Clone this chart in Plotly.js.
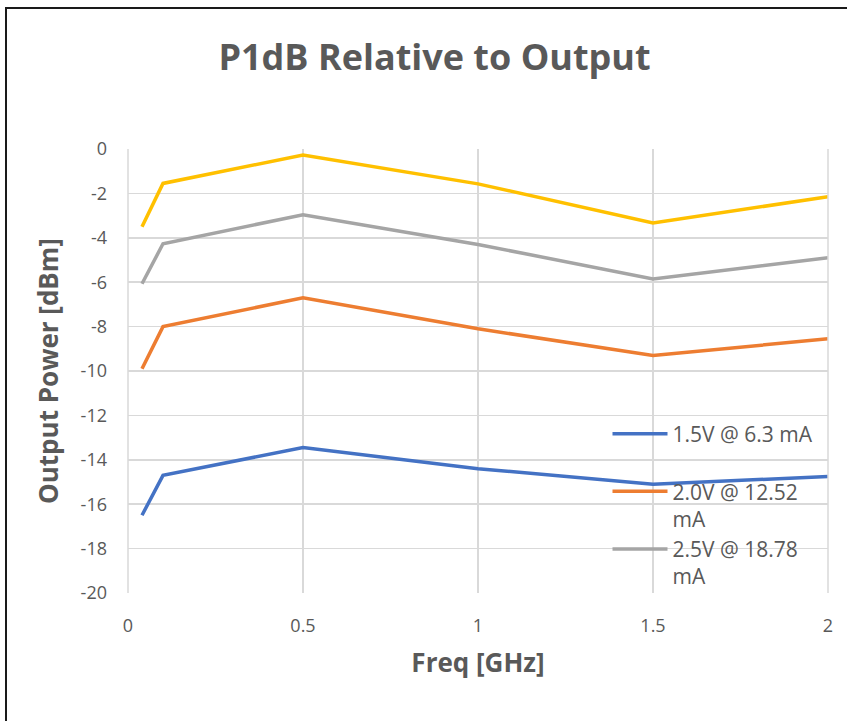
<!DOCTYPE html>
<html>
<head>
<meta charset="utf-8">
<script src="https://cdn.plot.ly/plotly-3.0.1.min.js"></script>
<style>
html,body{margin:0;padding:0;background:#fff;overflow:hidden;}
#chart{position:absolute;left:0;top:0;width:847px;height:721px;}
#frame{position:absolute;left:5px;top:7px;width:900px;height:800px;border:2px solid #1a1a1a;pointer-events:none;}
</style>
</head>
<body>
<div id="chart"></div>
<div id="frame"></div>
<script>
const freq = [0.04, 0.1, 0.5, 1, 1.5, 2];
const s15 = [-16.5, -14.7, -13.45, -14.4, -15.1, -14.75];
const s20 = [-9.9, -8.0, -6.7, -8.1, -9.3, -8.55];
const s25 = [-6.07, -4.27, -2.96, -4.3, -5.85, -4.9];
const s30 = [-3.5, -1.55, -0.27, -1.57, -3.33, -2.15];
const names = ["1.5V @ 6.3 mA<br>&nbsp;", "2.0V @ 12.52<br>mA", "2.5V @ 18.78<br>mA", "3.0V"];
const colors = ["#4472C4", "#ED7D31", "#A5A5A5", "#FFC000"];
const series = [s15, s20, s25, s30];
const xTicks = [0, 0.5, 1, 1.5, 2];
const xTickText = ["0", "0.5", "1", "1.5", "2"];
const yTicks = [0, -2, -4, -6, -8, -10, -12, -14, -16, -18, -20];
const yTickText = ["0", "-2", "-4", "-6", "-8", "-10", "-12", "-14", "-16", "-18", "-20"];

const FONT = "'Open Sans', 'Noto Sans', sans-serif";
const traces = series.map((s, i) => ({
  x: freq, y: s, type: "scatter", mode: "lines", name: names[i],
  line: {color: colors[i], width: 3.5},
  showlegend: i < 3
}));

const layout = {
  width: 847, height: 721,
  margin: {l: 128, r: 19, t: 149, b: 128},
  paper_bgcolor: "#fff", plot_bgcolor: "#fff",
  font: {family: FONT, color: "#595959", size: 18},
  title: {text: "<b>P1dB Relative to Output</b>", x: 0.513, xanchor: "center", y: 0.921, yanchor: "middle",
          font: {family: FONT, size: 36, color: "#595959"}},
  xaxis: {range: [0, 2], tickvals: xTicks, ticktext: xTickText, showgrid: true, gridcolor: "#d9d9d9", gridwidth: 1.5,
          zeroline: false, showline: false, ticks: "", ticklen: 0, tickfont: {size: 18, color: "#595959"}, ticklabelstandoff: 20,
          title: {text: "<b>Freq [GHz]</b>", font: {size: 26, color: "#595959"}, standoff: 17}},
  yaxis: {range: [-20, 0], tickvals: yTicks, ticktext: yTickText, showgrid: true, gridcolor: "#d9d9d9", gridwidth: 1.5,
          zeroline: false, showline: false, ticks: "", tickfont: {size: 18, color: "#595959"}, ticklabelstandoff: 20,
          title: {text: "<b>Output Power [dBm]</b>", font: {size: 26, color: "#595959"}, standoff: 14}},
  legend: {x: 0.685, xanchor: "left", y: 0.404, yanchor: "top", bgcolor: "rgba(0,0,0,0)",
           font: {size: 21, color: "#595959"}, itemwidth: 55, valign: "top", tracegroupgap: 0},
  shapes: [
    {type: "line", xref: "paper", yref: "paper", x0: 0, x1: 0, y0: 0, y1: 1, line: {color: "#d9d9d9", width: 1.5}},
    {type: "line", xref: "paper", yref: "paper", x0: 1, x1: 1, y0: 0, y1: 1, line: {color: "#d9d9d9", width: 1.5}}
  ]
};
Plotly.newPlot("chart", traces, layout, {displayModeBar: false, staticPlot: true});
</script>
</body>
</html>
